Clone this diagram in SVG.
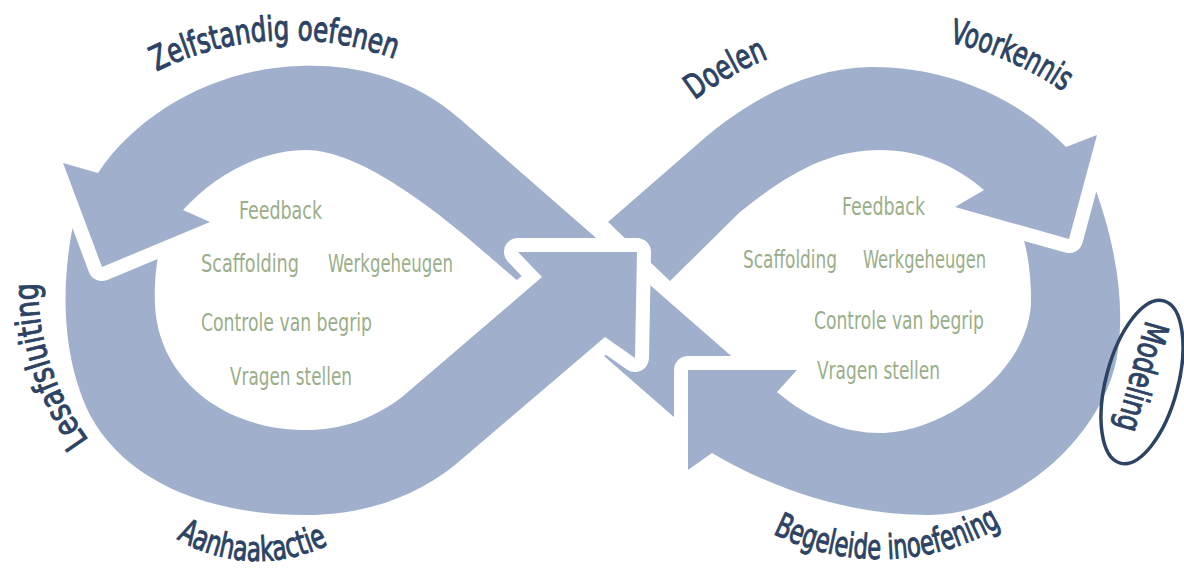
<svg xmlns="http://www.w3.org/2000/svg" width="1184" height="568" viewBox="0 0 1184 568">
<style>
.band{fill:#a0b0cc;stroke:#ffffff;stroke-width:28;stroke-linejoin:round;paint-order:stroke}
.lbl{font-family:"DejaVu Sans Condensed","DejaVu Sans",sans-serif;font-weight:normal;fill:#2d4363;stroke:#2d4363;stroke-width:1;font-size:34px}
.in{font-family:"DejaVu Sans Condensed","DejaVu Sans",sans-serif;fill:#9aae8a;font-size:25px}
</style>
<defs>
<clipPath id="cc"><rect x="240" y="0" width="944" height="568"/></clipPath>
<path id="pZelf" d="M 156.6,71.3 A 300 300 0 0 1 396.5,59.6"/>
<path id="pDoel" d="M 694.7,100.2 A 314 314 0 0 1 768.4,58.5"/>
<path id="pVoor" d="M 949.2,42.6 A 314 314 0 0 1 1064.2,92.2"/>
<path id="pLes" d="M 88.8,440.1 A 262 262 0 0 1 38,280"/>
<path id="pAan" d="M 176.6,538.7 A 160 160 0 0 0 330.6,543.6"/>
<path id="pBeg" d="M 772.9,533.8 A 240 240 0 0 0 1005,524"/>
</defs>
<g id="connectors">
<path id="arrowL" class="band" d="M 76,212 C 62,270 58,350 90,415 C 125,480 205,515 306,515 C 365,515 415,497 455,465 L 605,337 L 635,358 L 637,252 L 518,252 L 542,277 L 402,397 C 372,420 340,430 306,430 C 220,430 158,375 155,305 C 154,285 156,265 160,245 Z"/>
<path id="arrowZ" class="band" d="M 745,368 L 460,119 C 410,75 350,64 300,66 C 220,68 140,110 98,173 L 63,163 L 102,267 L 210,222 L 183,210 C 215,175 260,150 306,150 C 370,150 465,235 505,270 L 690,431 Z"/>
<path id="arrowM" class="band" d="M 1092,180 C 1115,240 1125,300 1118,350 C 1108,430 1020,515 928,515 C 850,515 775,490 712,453 L 688,470 L 688,370 L 797,370 L 777,392 C 810,420 845,433 880,433 C 945,433 1031,370 1031,300 C 1031,270 1027,245 1018,222 Z"/>
<path id="arrowD" class="band" d="M 608,222 L 700,142 C 750,98 810,68 870,67 C 950,66 1020,100 1066,147 L 1097,135 L 1069,239 L 955,207 L 984,190 C 955,165 920,150 880,150 C 830,150 790,172 740,212 L 670,281 Z"/>
<use href="#arrowL" clip-path="url(#cc)"/>
</g>
<g id="label-zelfstandig"><text class="lbl"><textPath href="#pZelf" textLength="245" lengthAdjust="spacingAndGlyphs">Zelfstandig oefenen</textPath></text></g>
<g id="label-doelen"><text class="lbl"><textPath href="#pDoel" textLength="85" lengthAdjust="spacingAndGlyphs">Doelen</textPath></text></g>
<g id="label-voorkennis"><text class="lbl"><textPath href="#pVoor" textLength="125" lengthAdjust="spacingAndGlyphs">Voorkennis</textPath></text></g>
<g id="label-lesafsluiting"><text class="lbl"><textPath href="#pLes" textLength="168" lengthAdjust="spacingAndGlyphs">Lesafsluiting</textPath></text></g>
<g id="label-aanhaakactie"><text class="lbl"><textPath href="#pAan" textLength="158" lengthAdjust="spacingAndGlyphs">Aanhaakactie</textPath></text></g>
<g id="label-begeleide"><text class="lbl"><textPath href="#pBeg" textLength="238" lengthAdjust="spacingAndGlyphs">Begeleide inoefening</textPath></text></g>
<g id="label-modeling">
<ellipse cx="1142" cy="382" rx="36" ry="84" transform="rotate(15 1142 382)" fill="none" stroke="#2d4363" stroke-width="3.5"/>
<text class="lbl" x="1146" y="320" transform="rotate(105.5 1146 320)" textLength="112" lengthAdjust="spacingAndGlyphs">Modeling</text>
</g>
<g id="inner-left">
<text class="in" x="239" y="219" textLength="83" lengthAdjust="spacingAndGlyphs">Feedback</text>
<text class="in" x="201" y="272" textLength="98" lengthAdjust="spacingAndGlyphs">Scaffolding</text>
<text class="in" x="328" y="272" textLength="125" lengthAdjust="spacingAndGlyphs">Werkgeheugen</text>
<text class="in" x="201" y="331" textLength="171" lengthAdjust="spacingAndGlyphs">Controle van begrip</text>
<text class="in" x="230" y="385" textLength="122" lengthAdjust="spacingAndGlyphs">Vragen stellen</text>
</g>
<g id="inner-right">
<text class="in" x="842" y="215" textLength="83" lengthAdjust="spacingAndGlyphs">Feedback</text>
<text class="in" x="743" y="268" textLength="94" lengthAdjust="spacingAndGlyphs">Scaffolding</text>
<text class="in" x="863" y="268" textLength="123" lengthAdjust="spacingAndGlyphs">Werkgeheugen</text>
<text class="in" x="814" y="329" textLength="170" lengthAdjust="spacingAndGlyphs">Controle van begrip</text>
<text class="in" x="817" y="379" textLength="123" lengthAdjust="spacingAndGlyphs">Vragen stellen</text>
</g>
</svg>
